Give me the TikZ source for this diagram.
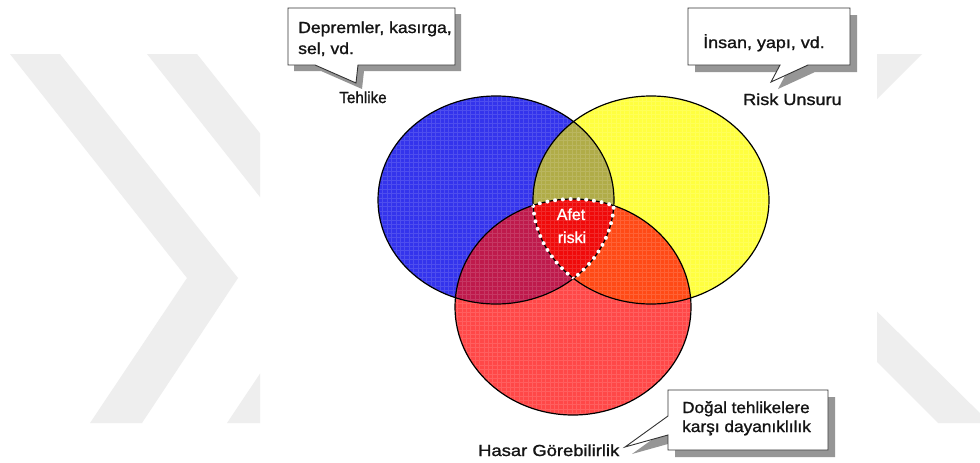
\documentclass[tikz,border=0pt]{standalone}
\usepackage{fontspec}
\setmainfont{Liberation Sans}[FakeBold=1.2]
\usepackage{graphicx}
\definecolor{cBlue}{RGB}{52,52,236}
\definecolor{cYellow}{RGB}{255,255,64}
\definecolor{cRed}{RGB}{255,72,72}
\definecolor{cBY}{RGB}{176,172,72}
\definecolor{cBR}{RGB}{190,26,76}
\definecolor{cYR}{RGB}{255,74,22}
\definecolor{cBYR}{RGB}{240,10,10}
\definecolor{cWM}{RGB}{238,238,238}
\definecolor{cShadow}{RGB}{150,150,150}
\definecolor{cText}{RGB}{20,20,20}
\newcommand\hx[2]{\scalebox{#1}[1]{#2}}
\tikzset{
  lbl/.style={inner sep=0pt, font=\fontsize{16}{19}\selectfont, text=cText},
  callout/.style={draw=black!80, line width=0.9pt, fill=white, line join=miter},
  cshadow/.style={fill=cShadow},
  ring/.style={draw=black, line width=1.2pt},
  wm/.style={fill=cWM},
  texture/.style={draw=white, opacity=0.13, line width=0.9pt},
  dotline/.style={draw=white, line width=4pt, line cap=round, dash pattern=on 0pt off 7.8pt}
}
\begin{document}
\begin{tikzpicture}[x=1pt,y=-1pt]
\useasboundingbox (0,0) rectangle (980,463);
\fill[white] (0,0) rectangle (980,463);
% watermark
\begin{scope}
  \clip (0,0) rectangle (260,463) (877,0) rectangle (980,463);
  \fill[wm] (10,54)--(60,54)--(238,278)--(142,423)--(90,423)--(187,278)--cycle;
  \fill[wm] (147,54)--(197,54)--(375,278)--(279,423)--(227,423)--(324,278)--cycle;
  \fill[wm] (872,54)--(922,54)--(770,206)--(990,423)--(938,423)--(720,205)--cycle;
\end{scope}
% base fills
\fill[cBlue] (496,200) ellipse [x radius=118, y radius=104];
\fill[cYellow] (651,200) ellipse [x radius=118, y radius=104];
\fill[cRed] (573,307) ellipse [x radius=118, y radius=108];
% overlaps
\begin{scope}
  \clip (496,200) ellipse [x radius=118, y radius=104];
  \fill[cBY] (651,200) ellipse [x radius=118, y radius=104];
  \fill[cBR] (573,307) ellipse [x radius=118, y radius=108];
\end{scope}
\begin{scope}
  \clip (651,200) ellipse [x radius=118, y radius=104];
  \fill[cYR] (573,307) ellipse [x radius=118, y radius=108];
\end{scope}
\begin{scope}
  \clip (496,200) ellipse [x radius=118, y radius=104];
  \clip (651,200) ellipse [x radius=118, y radius=104];
  \fill[cBYR] (573,307) ellipse [x radius=118, y radius=108];
\end{scope}
% fine texture over the circles
\begin{scope}
  \clip (496,200) ellipse [x radius=118, y radius=104]
        (651,200) ellipse [x radius=118, y radius=104]
        (573,307) ellipse [x radius=118, y radius=108];
  \draw[texture] (376,94) grid[step=4.4pt] (772,418);
\end{scope}
% outlines
\draw[ring] (496,200) ellipse [x radius=118, y radius=104];
\draw[ring] (651,200) ellipse [x radius=118, y radius=104];
\draw[ring] (573,307) ellipse [x radius=118, y radius=108];
% dotted boundary of the central region
\begin{scope}
  \clip (496,200) ellipse [x radius=118, y radius=104];
  \clip (651,200) ellipse [x radius=118, y radius=104];
  \draw[dotline] (573,307) ellipse [x radius=118, y radius=108];
\end{scope}
\begin{scope}
  \clip (651,200) ellipse [x radius=118, y radius=104];
  \clip (573,307) ellipse [x radius=118, y radius=108];
  \draw[dotline] (496,200) ellipse [x radius=118, y radius=104];
\end{scope}
\begin{scope}
  \clip (496,200) ellipse [x radius=118, y radius=104];
  \clip (573,307) ellipse [x radius=118, y radius=108];
  \draw[dotline] (651,200) ellipse [x radius=118, y radius=104];
\end{scope}
% callout 1
\fill[cshadow] (294,14)--(461,14)--(461,71)--(364,71)--(362,89)--(321,71)--(294,71)--cycle;
\draw[callout] (288,8)--(455,8)--(455,65)--(358,65)--(356,83)--(315,65)--(288,65)--cycle;
% callout 2
\fill[cshadow] (695,15)--(857,15)--(857,72)--(815,72)--(778,89)--(787,72)--(695,72)--cycle;
\draw[callout] (688,8)--(850,8)--(850,65)--(808,65)--(771,82)--(780,65)--(688,65)--cycle;
% callout 3
\fill[cshadow] (675,397)--(835,397)--(835,457)--(675,457)--(675,442)--(632,454)--(675,423)--cycle;
\draw[callout] (668,390)--(828,390)--(828,450)--(668,450)--(668,435)--(625,447)--(668,416)--cycle;
% texts
\node[lbl, anchor=base west] (t1a) at (298,33) {\hx{1.1}{Depremler, kasırga,}};
\node[lbl, anchor=base west] (t1b) at (298,54) {\hx{1.1}{sel, vd.}};
\node[lbl, anchor=base] (tehlike) at (363,103) {\hx{0.95}{Tehlike}};
\node[lbl, anchor=base west] (t2) at (703,48) {\hx{1.12}{İnsan, yapı, vd.}};
\node[lbl, anchor=base west] (risk) at (743,105) {\hx{1.13}{Risk Unsuru}};
\node[lbl, anchor=base west] (t3a) at (682,413) {\hx{1.07}{Doğal tehlikelere}};
\node[lbl, anchor=base west] (t3b) at (682,432) {\hx{1.08}{karşı dayanıklılık}};
\node[lbl, anchor=base west] (hasar) at (478,456) {\hx{1.15}{Hasar Görebilirlik}};
\node[lbl, anchor=base, text=white] (afet) at (571,220) {Afet};
\node[lbl, anchor=base, text=white] (riski) at (572,243) {riski};
\end{tikzpicture}
\end{document}
